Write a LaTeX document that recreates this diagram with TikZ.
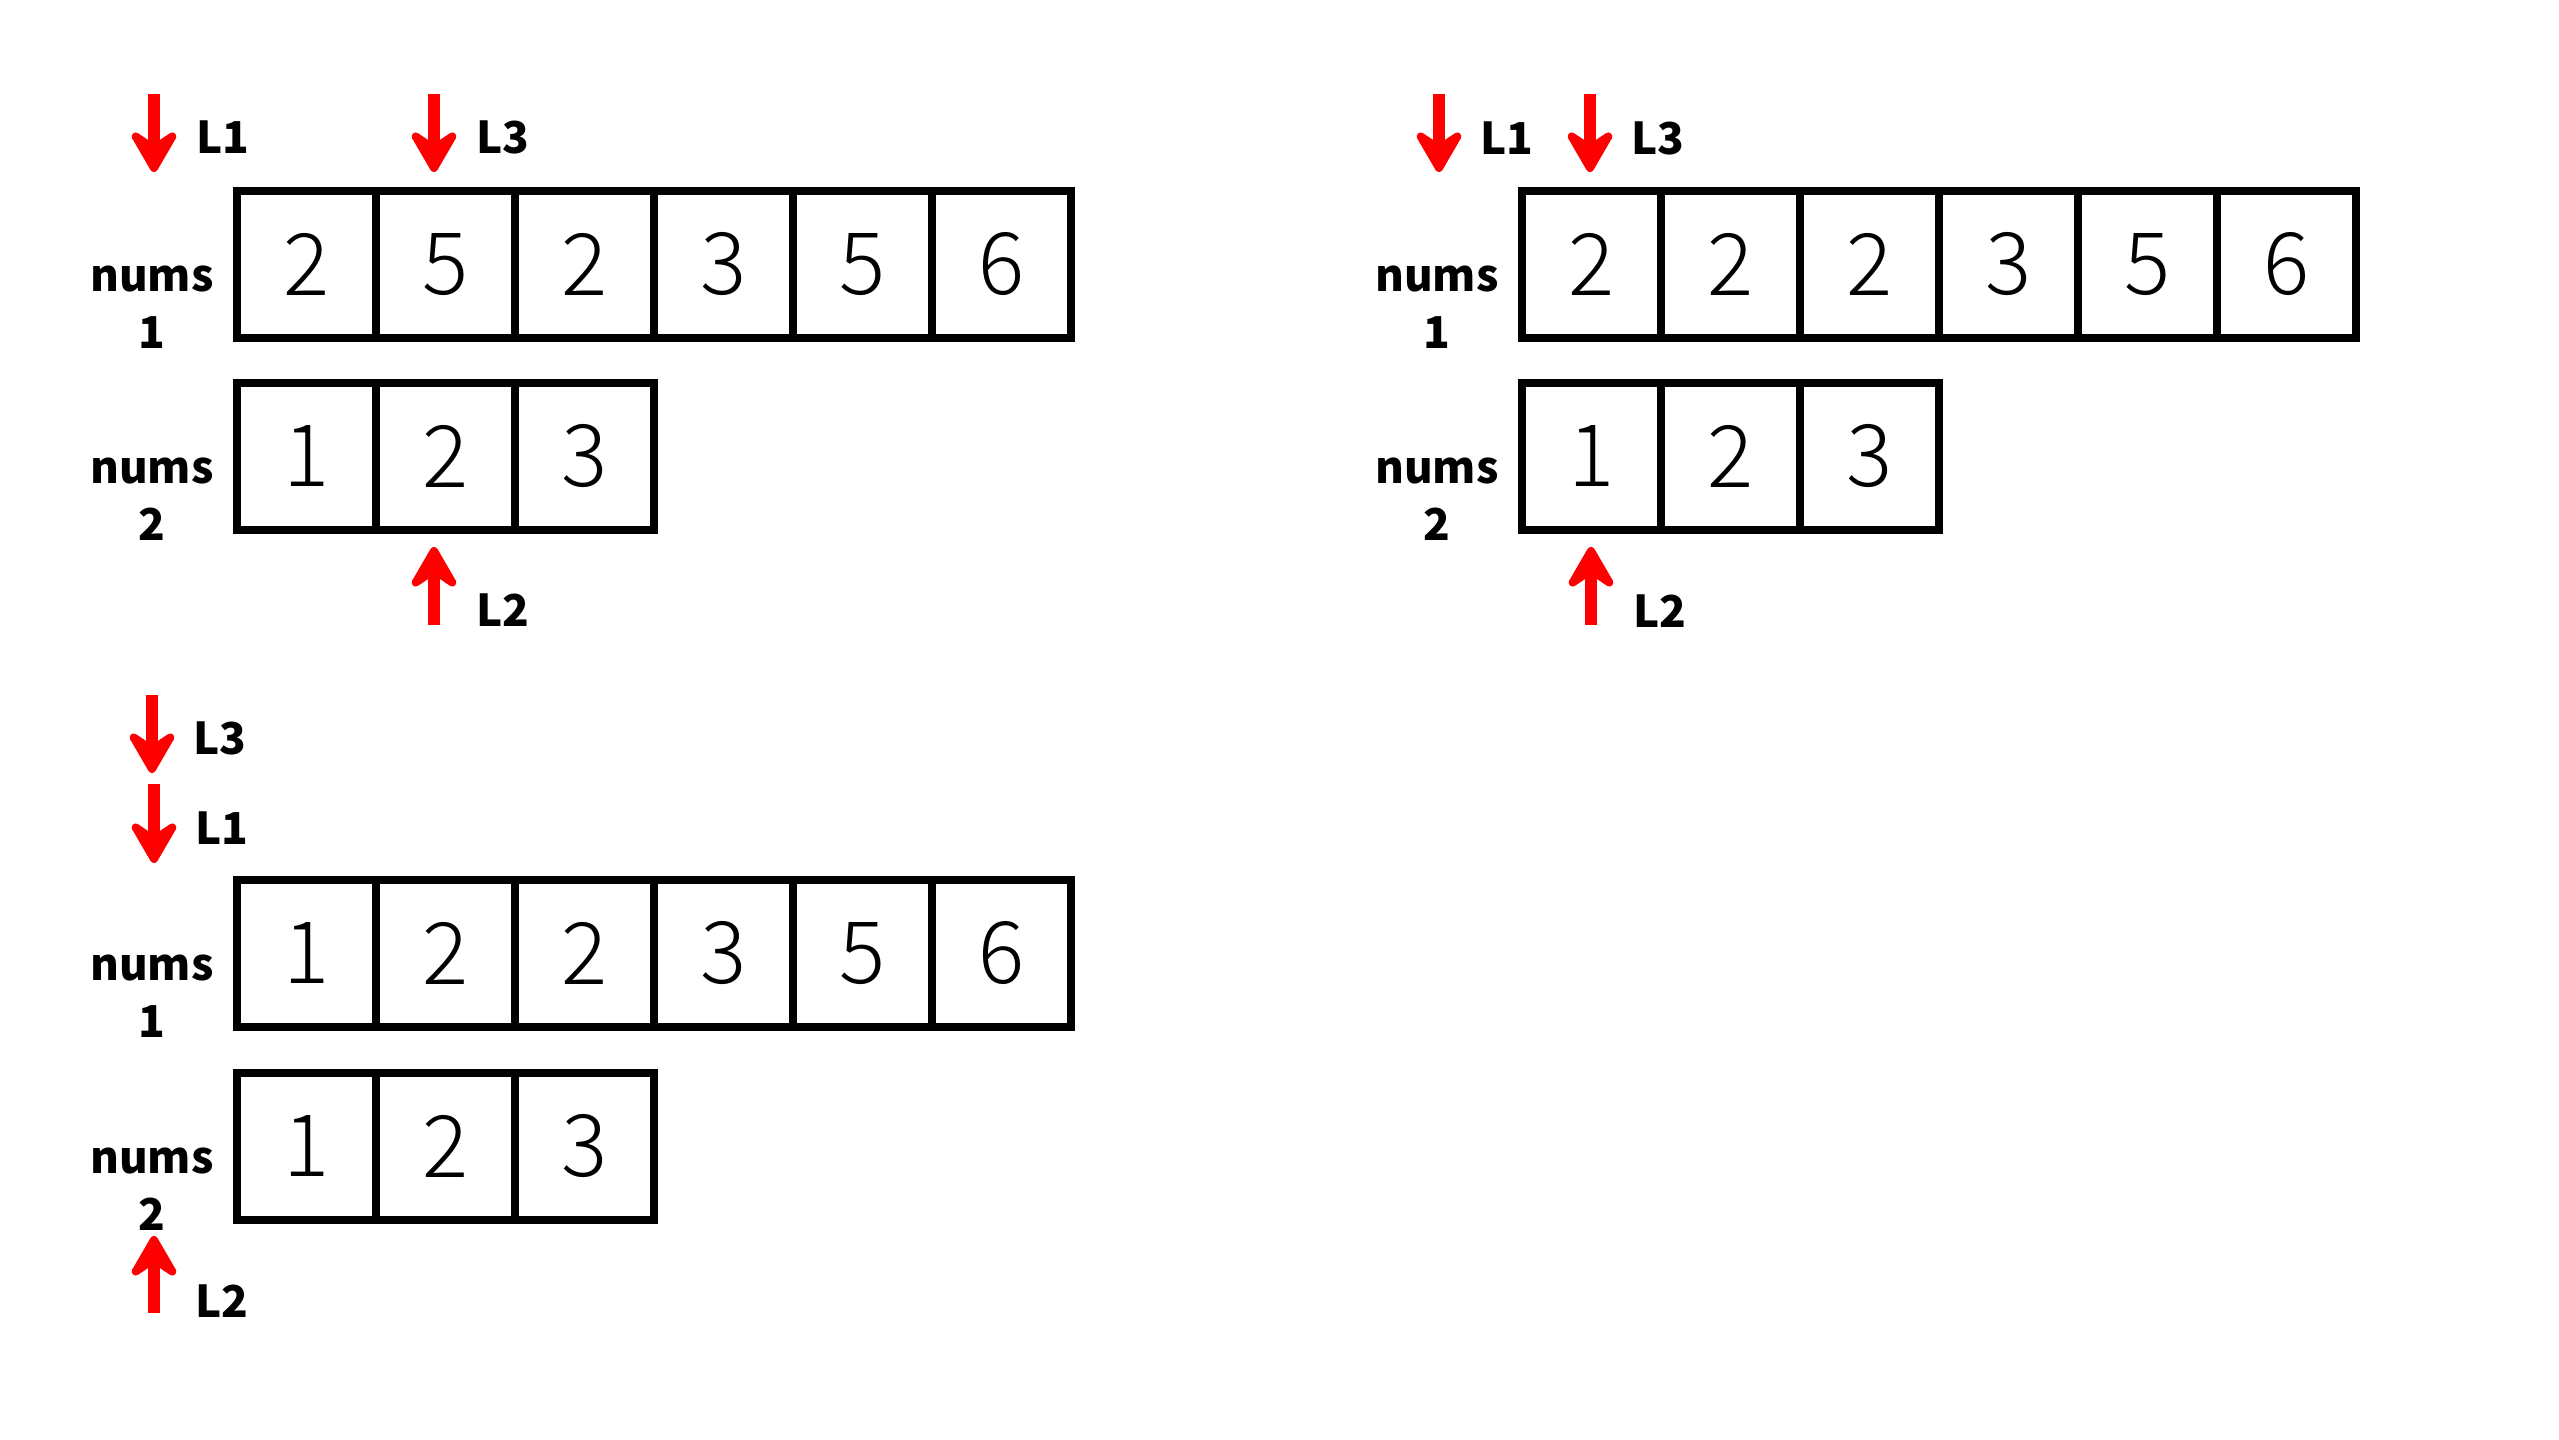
\documentclass[tikz,border=0pt]{standalone}
\usepackage{fontspec}
\setmainfont{Noto Sans CJK SC}
\newfontfamily\digitfont{Noto Sans CJK SC Light}
\usetikzlibrary{positioning}
\usetikzlibrary{arrows.meta}

\tikzset{
  cell/.style={draw, line width=2.3pt, anchor=north west, outer sep=0pt, inner sep=0pt,
    minimum width=1.39cm, minimum height=1.465cm, font=\digitfont\fontsize{24.5pt}{24.5pt}\selectfont},
  arrlab/.style={anchor=north, inner sep=0pt, align=center, font=\bfseries\fontsize{12.5pt}{16.2pt}\selectfont},
  ptrlab/.style={anchor=base, inner sep=0pt, font=\bfseries\fontsize{12.5pt}{15pt}\selectfont},
  ptr/.style={red, line width=3.4pt, -{Stealth[length=0.52cm, width=0.6cm, inset=0.2cm, round]}},
}

\begin{document}
\begin{tikzpicture}[x=0.01cm, y=-0.01cm]
\def\w{139}
\useasboundingbox (0,0) rectangle (2559,1440);

% top left
\foreach \v [count=\i] in {2,5,2,3,5,6} \node[cell] (a\i) at ({237+(\i-1)*\w}, 191) {\v};
\foreach \v [count=\i] in {1,2,3} \node[cell] (b\i) at ({237+(\i-1)*\w}, 383) {\v};
\node[arrlab] (na) at (152, 265) {nums\\1};
\node[arrlab] (nb) at (152, 457) {nums\\2};

% top right
\foreach \v [count=\i] in {2,2,2,3,5,6} \node[cell] (c\i) at ({1522+(\i-1)*\w}, 191) {\v};
\foreach \v [count=\i] in {1,2,3} \node[cell] (d\i) at ({1522+(\i-1)*\w}, 383) {\v};
\node[arrlab] (nc) at (1437, 265) {nums\\1};
\node[arrlab] (nd) at (1437, 457) {nums\\2};

% bottom left
\foreach \v [count=\i] in {1,2,2,3,5,6} \node[cell] (e\i) at ({237+(\i-1)*\w}, 880) {\v};
\foreach \v [count=\i] in {1,2,3} \node[cell] (f\i) at ({237+(\i-1)*\w}, 1073) {\v};
\node[arrlab] (ne) at (152, 954) {nums\\1};
\node[arrlab] (nf) at (152, 1147) {nums\\2};

% pointers
\foreach \n/\x/\ys/\ye in {pa1/154/94/172, pa3/434/94/172, pa2/434/625/547,
    pc1/1439/94/172, pc3/1590/94/172, pc2/1591/625/547,
    pe3/152/695/773, pe1/154/784/863, pe2/154/1313/1236} {
  \coordinate (\n-s) at (\x, \ys);
  \coordinate (\n-e) at (\x, \ye);
  \draw[ptr] (\n-s) -- (\n-e);
}
\foreach \n/\x/\y/\t in {la1/223/154/L1, la3/503/154/L3, la2/503/627/L2,
    lc1/1507/155/L1, lc3/1658/155/L3, lc2/1660/628/L2,
    le3/220/755/L3, le1/222/845/L1, le2/222/1318/L2}
  \node[ptrlab] (\n) at (\x, \y) {\t};
\end{tikzpicture}
\end{document}
